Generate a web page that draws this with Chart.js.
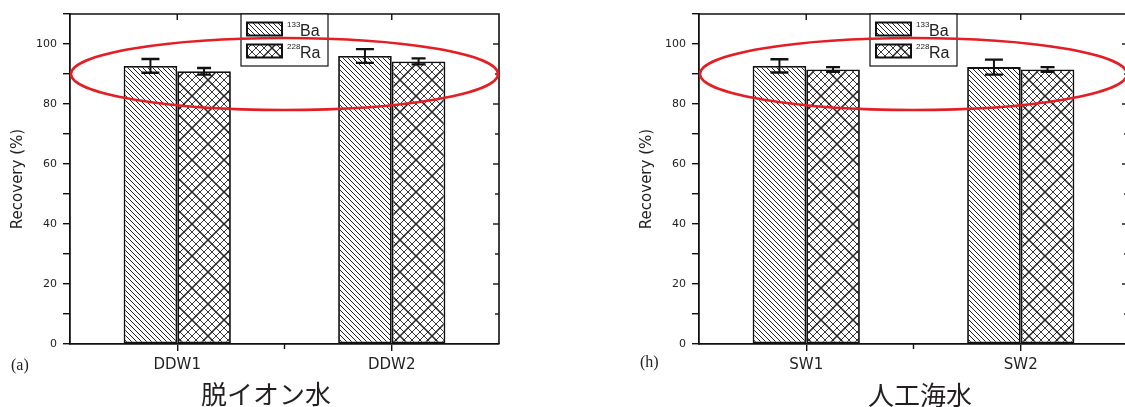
<!DOCTYPE html>
<html>
<head>
<meta charset="utf-8">
<script src="https://cdn.jsdelivr.net/npm/chart.js@4.4.1/dist/chart.umd.min.js"></script>
<style>
  html, body { margin: 0; padding: 0; background: #fff; overflow: hidden; }
  #page { position: relative; width: 1125px; height: 407px; overflow: hidden; }
  canvas { position: absolute; top: 0; }
  .tag { position: absolute; font: 16px "Liberation Serif", serif; color: #222; line-height: 18px; }
  .caption { position: absolute; font: 26px "Noto Sans CJK JP", sans-serif; color: #231f20; line-height: 30px; transform: translateX(-50%); white-space: nowrap; }
</style>
</head>
<body>
<div id="page">
  <canvas id="chartA" width="530" height="380" style="left:0"></canvas>
  <canvas id="chartB" width="530" height="380" style="left:629px"></canvas>
  <div class="tag" style="left:11px; top:356px">(a)</div>
  <div class="tag" style="left:640px; top:353px">(h)</div>
  <div class="caption" style="left:266px; top:378px">脱イオン水</div>
  <div class="caption" style="left:920px; top:379px">人工海水</div>
</div>
<script>
// ---------- Data ----------
const categoriesA = ["DDW1", "DDW2"];
const ba133A = [92.7, 96.0];
const ba133ErrA = [2.3, 2.3];
const ra228A = [90.9, 94.2];
const ra228ErrA = [1.1, 1.0];

const categoriesB = ["SW1", "SW2"];
const ba133B = [92.7, 92.3];
const ba133ErrB = [2.2, 2.5];
const ra228B = [91.5, 91.5];
const ra228ErrB = [0.8, 0.8];

const yMin = 0, yMax = 110, yStep = 10;
const INK = "#111";

// ---------- Patterns ----------
function hatchPattern() {
  const s = 5;
  const c = document.createElement("canvas");
  c.width = s; c.height = s;
  const g = c.getContext("2d");
  g.fillStyle = "#fff"; g.fillRect(0, 0, s, s);
  g.strokeStyle = "#222"; g.lineWidth = 1;
  for (let k = -1; k <= 1; k++) {
    g.beginPath(); g.moveTo(k * s, 0); g.lineTo(k * s + s, s); g.stroke();
  }
  return g.createPattern(c, "repeat");
}

function crossPattern() {
  const s = 32, step = 8;
  const c = document.createElement("canvas");
  c.width = s; c.height = s;
  const g = c.getContext("2d");
  g.fillStyle = "#fff"; g.fillRect(0, 0, s, s);
  g.strokeStyle = "#222";
  const lines = (w, sp) => {
    g.lineWidth = w;
    for (let x = -s; x <= s; x += sp) {
      g.beginPath(); g.moveTo(x, 0); g.lineTo(x + s, s); g.stroke();
      g.beginPath(); g.moveTo(x + s, 0); g.lineTo(x, s); g.stroke();
    }
  };
  lines(0.9, step);
  lines(1.5, s);
  return g.createPattern(c, "repeat");
}

const baFill = hatchPattern();
const raFill = crossPattern();

// ---------- Plugins ----------
const frame = {
  id: "frame",
  afterDraw(chart) {
    const { ctx, chartArea: a, scales } = chart;
    ctx.save();
    ctx.strokeStyle = INK;
    ctx.lineWidth = 1.6;
    ctx.beginPath();
    ctx.moveTo(a.left, a.top); ctx.lineTo(a.right, a.top); ctx.lineTo(a.right, a.bottom);
    ctx.stroke();
    ctx.lineWidth = 1.4;
    // top ticks at categories, right ticks inward
    scales.x.ticks.forEach((t, i) => {
      const x = scales.x.getPixelForTick(i);
      ctx.beginPath(); ctx.moveTo(x, a.top); ctx.lineTo(x, a.top + 6); ctx.stroke();
    });
    const mid = (scales.x.getPixelForTick(0) + scales.x.getPixelForTick(1)) / 2;
    ctx.beginPath(); ctx.moveTo(mid, a.bottom); ctx.lineTo(mid, a.bottom + 5); ctx.stroke();
    for (let v = yMin + yStep; v < yMax; v += yStep) {
      const y = scales.y.getPixelForValue(v);
      const len = v % 20 === 0 ? 6 : 4;
      ctx.beginPath(); ctx.moveTo(a.right, y); ctx.lineTo(a.right - len, y); ctx.stroke();
    }
    ctx.restore();
  },
};

const errorBars = {
  id: "errorBars",
  afterDatasetsDraw(chart) {
    const { ctx, scales } = chart;
    ctx.save();
    ctx.strokeStyle = INK;
    chart.data.datasets.forEach((ds, di) => {
      const meta = chart.getDatasetMeta(di);
      meta.data.forEach((bar, i) => {
        const v = ds.data[i], e = ds.errors[i];
        const yTop = scales.y.getPixelForValue(v + e);
        const yBot = scales.y.getPixelForValue(v - e);
        const half = ds.capWidth / 2;
        ctx.lineWidth = 2;
        ctx.beginPath(); ctx.moveTo(bar.x, yTop); ctx.lineTo(bar.x, yBot); ctx.stroke();
        ctx.lineWidth = 2.4;
        ctx.beginPath();
        ctx.moveTo(bar.x - half, yTop); ctx.lineTo(bar.x + half, yTop);
        ctx.moveTo(bar.x - half, yBot); ctx.lineTo(bar.x + half, yBot);
        ctx.stroke();
      });
    });
    ctx.restore();
  },
};

const boxLegend = {
  id: "boxLegend",
  afterDraw(chart) {
    const { ctx, chartArea: a } = chart;
    const left = a.left + 171, top = a.top, w = 87, h = 52;
    ctx.save();
    ctx.fillStyle = "#fff";
    ctx.fillRect(left, top, w, h);
    ctx.strokeStyle = INK; ctx.lineWidth = 1.2;
    ctx.strokeRect(left, top, w, h);
    const rows = [
      { fill: baFill, sup: "133", name: "Ba", y: top + 8.5 },
      { fill: raFill, sup: "228", name: "Ra", y: top + 30.5 },
    ];
    rows.forEach((r) => {
      ctx.fillStyle = r.fill;
      ctx.fillRect(left + 6, r.y, 35, 13);
      ctx.lineWidth = 2; ctx.strokeStyle = INK;
      ctx.strokeRect(left + 6, r.y, 35, 13);
      ctx.fillStyle = "#222";
      ctx.textBaseline = "alphabetic";
      ctx.font = "8px 'Liberation Sans', sans-serif";
      ctx.fillText(r.sup, left + 46, r.y + 4);
      ctx.font = "16px 'Liberation Sans', sans-serif";
      ctx.fillText(r.name, left + 59, r.y + 13.5);
    });
    ctx.restore();
  },
};

const highlight = {
  id: "highlight",
  afterDraw(chart) {
    const { ctx, chartArea: a, scales } = chart;
    const cx = (a.left + a.right) / 2;
    const cy = scales.y.getPixelForValue(90);
    const rx = (a.right - a.left) / 2 - 1;
    const ry = scales.y.getPixelForValue(78) - cy;
    ctx.save();
    ctx.strokeStyle = "#e31e24";
    ctx.lineWidth = 2.5;
    ctx.beginPath();
    ctx.ellipse(cx, cy, rx, ry, 0, 0, Math.PI * 2);
    ctx.stroke();
    ctx.restore();
  },
};

// ---------- Charts ----------
function makeChart(id, labels, ba, baErr, ra, raErr) {
  return new Chart(document.getElementById(id), {
    type: "bar",
    data: {
      labels,
      datasets: [
        { label: "133Ba", data: ba, errors: baErr, capWidth: 18, backgroundColor: baFill },
        { label: "228Ra", data: ra, errors: raErr, capWidth: 14, backgroundColor: raFill },
      ].map((d) => ({
        ...d,
        borderColor: INK,
        borderWidth: 1.8,
        borderSkipped: false,
        categoryPercentage: 0.5,
        barPercentage: 1.0,
      })),
    },
    options: {
      responsive: false,
      animation: false,
      layout: { padding: { top: 14, right: 31, left: 0, bottom: 0 } },
      plugins: { legend: { display: false }, tooltip: { enabled: false } },
      scales: {
        x: {
          afterFit: (s) => { s.height = 36; },
          grid: { display: true, offset: false, drawOnChartArea: false, drawTicks: true, tickLength: 7, color: INK, lineWidth: 1.4 },
          border: { display: true, color: INK, width: 1.8 },
          ticks: { color: "#222", padding: 5, font: { family: "'DejaVu Sans', sans-serif", size: 15 } },
        },
        y: {
          min: yMin, max: yMax,
          afterFit: (s) => { s.width = 70; },
          grid: { display: true, drawOnChartArea: false, drawTicks: true, tickLength: 7, color: INK, lineWidth: 1.4 },
          border: { display: true, color: INK, width: 1.8 },
          ticks: {
            stepSize: yStep,
            color: "#222",
            padding: 6,
            font: { family: "'DejaVu Sans', sans-serif", size: 11 },
            callback: (v) => (v % 20 === 0 && v <= 100 ? v : ""),
          },
          title: {
            display: true,
            text: "Recovery (%)",
            color: "#222",
            padding: { top: 9, bottom: 0 },
            font: { family: "'DejaVu Sans', sans-serif", size: 15 },
          },
        },
      },
    },
    plugins: [errorBars, frame, boxLegend, highlight],
  });
}

makeChart("chartA", categoriesA, ba133A, ba133ErrA, ra228A, ra228ErrA);
makeChart("chartB", categoriesB, ba133B, ba133ErrB, ra228B, ra228ErrB);
</script>
</body>
</html>
